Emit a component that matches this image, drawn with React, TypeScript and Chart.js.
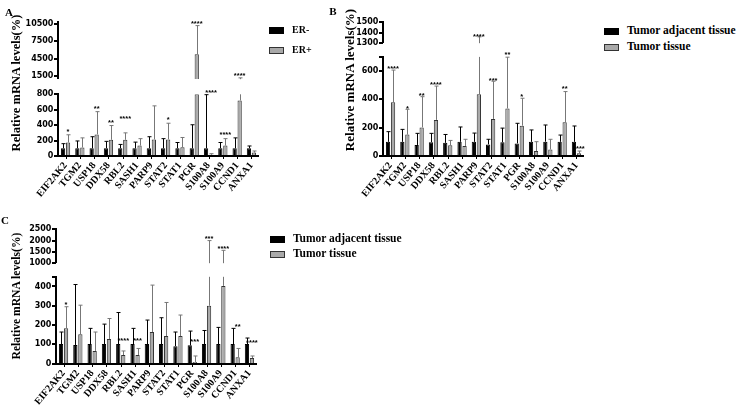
import React, { useEffect, useRef } from 'react';
import { Chart, registerables } from 'chart.js';

Chart.register(...registerables);

// ---------------- data ----------------
const categories = ['EIF2AK2', 'TGM2', 'USP18', 'DDX58', 'RBL2', 'SASH1', 'PARP9', 'STAT2', 'STAT1', 'PGR', 'S100A8', 'S100A9', 'CCND1', 'ANXA1'];

// Panel A: ER- vs ER+
const erNegMean = [100, 100, 100, 100, 100, 100, 100, 100, 100, 100, 100, 100, 100, 100];
const erNegSD = [60, 95, 150, 90, 50, 80, 150, 125, 75, 305, 695, 75, 135, 30];
const erPosMean = [175, 110, 280, 210, 210, 135, 215, 215, 115, 5300, 15, 135, 720, 45];
const erPosSD = [100, 125, 295, 185, 90, 90, 435, 210, 125, 4900, 15, 90, 510, 20];
const starsA = ['*', '', '**', '**', '****', '', '', '*', '', '****', '****', '****', '****', ''];
const starYA = [337, null, 640, 454, 502, null, null, 489, null, 10850, 843, 302, 1934, null];
const ticksALower = [0, 200, 400, 600, 800];
const ticksAUpper = [1500, 4500, 7500, 10500];

// Panel B: tumor adjacent vs tumor
const adjMeanB = [100, 100, 78, 98, 93, 100, 100, 82, 97, 89, 100, 101, 100, 100];
const adjSDB = [72, 88, 82, 62, 59, 105, 62, 36, 100, 142, 84, 118, 48, 112];
const tumMeanB = [379, 151, 202, 255, 76, 70, 437, 262, 336, 214, 35, 46, 238, 20];
const tumSDB = [228, 179, 217, 239, 34, 48, 923, 266, 362, 194, 66, 72, 217, 15];
const starsB = ['****', '*', '**', '****', '', '', '****', '***', '**', '*', '', '', '**', '****'];
const starYB = [631, 344, 438, 518, null, null, 1381, 544, 725, 430, null, null, 490, 61];
const ticksBLower = [0, 200, 400, 600, 700];
const ticksBUpper = [1300, 1400, 1500];

// Panel C: tumor adjacent vs tumor
const adjMeanC = [102, 97, 102, 102, 102, 102, 102, 102, 91, 95, 102, 102, 102, 102];
const adjSDC = [62, 313, 81, 103, 163, 81, 124, 136, 73, 74, 70, 86, 81, 31];
const tumMeanC = [184, 152, 66, 128, 45, 45, 164, 143, 143, 9, 300, 403, 33, 29];
const tumSDC = [111, 151, 98, 106, 21, 34, 243, 174, 109, 31, 1700, 1167, 46, 11];
const starsC = ['*', '', '', '', '****', '***', '', '', '', '***', '***', '****', '**', '****'];
const starYC = [312, null, null, null, 128, 128, null, null, null, 121, 2170, 1714, 200, 119];
const ticksCLower = [0, 100, 200, 300, 400, 450];
const ticksCUpper = [1000, 1500, 2000, 2500];

const legendA = ['ER-', 'ER+'];
const legendBC = ['Tumor adjacent tissue', 'Tumor tissue'];
const yTitle = 'Relative mRNA levels(%)';

const AXIS_COLOR = '#000';

// ---------------- component ----------------
type SegProps = {
  left: number; top: number; width: number; height: number;
  part: 'upper' | 'lower';
  black: number[]; blackSD: number[]; grey: number[]; greySD: number[];
  stars: string[]; starY: (number | null)[];
  min: number; max: number; ticks: number[]; hidden?: number[];
  split: number; yw: number; padTop: number; padBottom: number; padRight: number; xh: number;
};

const GREY = '#a9a9a9';

function Segment(p: SegProps) {
  const ref = useRef<HTMLCanvasElement>(null);
  useEffect(() => {
    const canvas = ref.current!;
    const lower = p.part === 'lower';
    const means = [p.black, p.grey];
    const sds = [p.blackSD, p.greySD];
    // bars restricted to the visible segment of the broken axis
    const segData = (vals: number[]) =>
      lower ? vals.map((v) => Math.min(v, p.max)) : vals.map((v) => (v > p.min ? [p.min, Math.min(v, p.max)] : null));

    const errPlugin = {
      id: 'errStars',
      afterDatasetsDraw(chart: any) {
        const ctx = chart.ctx;
        const ys = chart.scales.y;
        const xs = chart.scales.x;
        const a = chart.chartArea;
        ctx.save();
        // error bars (upper whisker only)
        const colors = ['#000', '#777'];
        for (let d = 0; d < 2; d++) {
          const meta = chart.getDatasetMeta(d);
          means[d].forEach((mean, i) => {
            const el = meta.data[i];
            if (!el) return;
            const top = mean + sds[d][i];
            if (top <= ys.min || mean >= ys.max) return;
            const yb = ys.getPixelForValue(Math.max(mean, ys.min));
            const yt = ys.getPixelForValue(Math.min(top, ys.max));
            const x = Math.round(el.x) + 0.5;
            ctx.strokeStyle = colors[d];
            ctx.lineWidth = 1;
            ctx.beginPath();
            ctx.moveTo(x, yb);
            ctx.lineTo(x, yt);
            if (top <= ys.max) {
              ctx.moveTo(x - 2, yt);
              ctx.lineTo(x + 2, yt);
            }
            ctx.stroke();
          });
        }
        // axes: segment of the broken y axis, and the x axis on the lower segment
        const ax = Math.round(a.left);
        const ab = Math.round(a.bottom);
        ctx.fillStyle = AXIS_COLOR;
        ctx.fillRect(ax - 1, Math.round(a.top) - 1, 2, ab - Math.round(a.top) + (lower ? 2 : 1));
        p.ticks.forEach((v) => {
          const y = Math.round(ys.getPixelForValue(v));
          ctx.fillRect(ax - 4, y - 1, 4, 2);
        });
        if (lower) {
          ctx.fillRect(ax - 1, ab - 1, Math.round(a.right) - ax + 1, 2);
          categories.forEach((_c, i) => {
            const x = Math.round(xs.getPixelForValue(i));
            ctx.fillRect(x, ab, 1, 3);
          });
        }
        // significance stars
        const gm = chart.getDatasetMeta(1);
        ctx.fillStyle = '#000';
        ctx.font = 'bold 7.5px "Liberation Sans"';
        ctx.textAlign = 'center';
        ctx.textBaseline = 'alphabetic';
        p.stars.forEach((s, i) => {
          const v = p.starY[i];
          if (!s || v == null) return;
          const inUpper = v >= p.split;
          if ((p.part === 'upper') !== inUpper) return;
          ctx.fillText(s, gm.data[i].x, ys.getPixelForValue(v) + 4);
        });
        ctx.restore();
      },
    };
    const chart = new Chart(canvas, {
      type: 'bar',
      data: {
        labels: categories,
        datasets: [
          { data: segData(p.black), backgroundColor: '#000', borderColor: '#000', borderWidth: 1 } as any,
          { data: segData(p.grey), backgroundColor: GREY, borderColor: '#333', borderWidth: 1 } as any,
        ],
      },
      options: {
        responsive: false,
        animation: false,
        devicePixelRatio: 1,
        layout: { padding: { left: 0, right: p.padRight, top: p.padTop, bottom: p.padBottom } },
        datasets: { bar: { categoryPercentage: 0.7, barPercentage: 0.85 } },
        plugins: { legend: { display: false }, tooltip: { enabled: false } },
        scales: {
          x: {
            display: lower,
            grid: { offset: false, drawOnChartArea: false, drawTicks: true, tickLength: 3, color: 'rgba(0,0,0,0)' },
            border: { display: false },
            ticks: {
              autoSkip: false, minRotation: 50, maxRotation: 50, padding: 1, color: '#000',
              font: { family: 'Liberation Serif', size: 10, weight: 'bold' },
            },
            afterFit: (s: any) => { s.height = p.xh; },
          },
          y: {
            min: p.min,
            max: p.max,
            afterBuildTicks: (s: any) => { s.ticks = p.ticks.map((v) => ({ value: v })); },
            grid: { drawOnChartArea: false, drawTicks: true, tickLength: 3, color: 'rgba(0,0,0,0)' },
            border: { display: false },
            ticks: {
              autoSkip: false, padding: 2, color: '#000',
              font: { family: 'DejaVu Sans', size: 8, weight: 'bold' },
              callback: (v: any) => ((p.hidden || []).includes(Number(v)) ? '' : String(v)),
            },
            afterFit: (s: any) => { s.width = p.yw; },
          },
        } as any,
      },
      plugins: [errPlugin],
    });
    return () => chart.destroy();
  }, []);
  return (
    <canvas
      ref={ref}
      width={p.width}
      height={p.height}
      style={{ position: 'absolute', left: p.left, top: p.top, width: p.width, height: p.height }}
    />
  );
}

const serif = '"Liberation Serif", "Times New Roman", serif';

function Legend({ x, y1, y2, labels, size }: { x: number; y1: number; y2: number; labels: string[]; size: number }) {
  const box = (y: number, bg: string, bc: string) => (
    <div style={{ position: 'absolute', left: x, top: y - 3, width: 13, height: 5, background: bg, border: `1px solid ${bc}` }} />
  );
  const txt = (y: number, t: string) => (
    <div style={{ position: 'absolute', left: x + 23, top: y, transform: 'translateY(-50%)', font: `bold ${size}px ${serif}`, lineHeight: 1, whiteSpace: 'nowrap', color: '#000' }}>{t}</div>
  );
  return (
    <>
      {box(y1, '#000', '#000')}
      {txt(y1, labels[0])}
      {box(y2, GREY, '#333')}
      {txt(y2, labels[1])}
    </>
  );
}

function Title({ cx, cy, size }: { cx: number; cy: number; size: number }) {
  return (
    <div style={{ position: 'absolute', left: cx, top: cy, transform: 'translate(-50%,-50%) rotate(-90deg)', font: `bold ${size}px ${serif}`, lineHeight: 1, whiteSpace: 'nowrap', color: '#000' }}>{yTitle}</div>
  );
}

function Letter({ cx, cy, t }: { cx: number; cy: number; t: string }) {
  return (
    <div style={{ position: 'absolute', left: cx, top: cy, transform: 'translate(-50%,-50%)', font: `bold 11px ${serif}`, lineHeight: 1, color: '#000' }}>{t}</div>
  );
}

export default function App() {
  const A = { black: erNegMean, blackSD: erNegSD, grey: erPosMean, greySD: erPosSD, stars: starsA, starY: starYA, split: 1000 };
  const B = { black: adjMeanB, blackSD: adjSDB, grey: tumMeanB, greySD: tumSDB, stars: starsB, starY: starYB, split: 1300 };
  const C = { black: adjMeanC, blackSD: adjSDC, grey: tumMeanC, greySD: tumSDC, stars: starsC, starY: starYC, split: 1000 };
  return (
    <div style={{ position: 'absolute', left: 0, top: 0, width: 740, height: 406, background: '#fff', overflow: 'hidden' }}>
      {/* Panel A */}
      <Segment {...A} part="upper" left={0} top={8} width={270} height={78} min={1000} max={10800} ticks={ticksAUpper}
        yw={58.4} padTop={14.1} padBottom={2.9} padRight={11.4} xh={0} />
      <Segment {...A} part="lower" left={0} top={84} width={270} height={130} min={0} max={800} ticks={ticksALower}
        yw={58.4} padTop={10.3} padBottom={0} padRight={11.4} xh={58} />
      {/* Panel B */}
      <Segment {...B} part="upper" left={320} top={8} width={275} height={42} min={1300} max={1500} ticks={ticksBUpper}
        yw={63.4} padTop={14} padBottom={3.3} padRight={11.4} xh={0} />
      <Segment {...B} part="lower" left={320} top={48} width={275} height={166} min={0} max={700} ticks={ticksBLower} hidden={[700]}
        yw={63.4} padTop={8.9} padBottom={0} padRight={11.4} xh={58} />
      {/* Panel C */}
      <Segment {...C} part="upper" left={0} top={214} width={270} height={56} min={1000} max={2500} ticks={ticksCUpper}
        yw={56.4} padTop={15.3} padBottom={3.3} padRight={13.4} xh={0} />
      <Segment {...C} part="lower" left={0} top={268} width={270} height={138} min={0} max={450} ticks={ticksCLower} hidden={[450]}
        yw={56.4} padTop={8.8} padBottom={0} padRight={13.4} xh={42.3} />

      <Title cx={16} cy={83} size={12.5} />
      <Title cx={349} cy={80} size={13} />
      <Title cx={17} cy={296} size={11.6} />

      <Letter cx={9} cy={12} t="A" />
      <Letter cx={333} cy={11} t="B" />
      <Letter cx={5} cy={220} t="C" />

      <Legend x={269} y1={30} y2={49.5} labels={legendA} size={10} />
      <Legend x={604} y1={31.3} y2={47} labels={legendBC} size={11.5} />
      <Legend x={270} y1={239} y2={253.7} labels={legendBC} size={11.5} />
    </div>
  );
}
